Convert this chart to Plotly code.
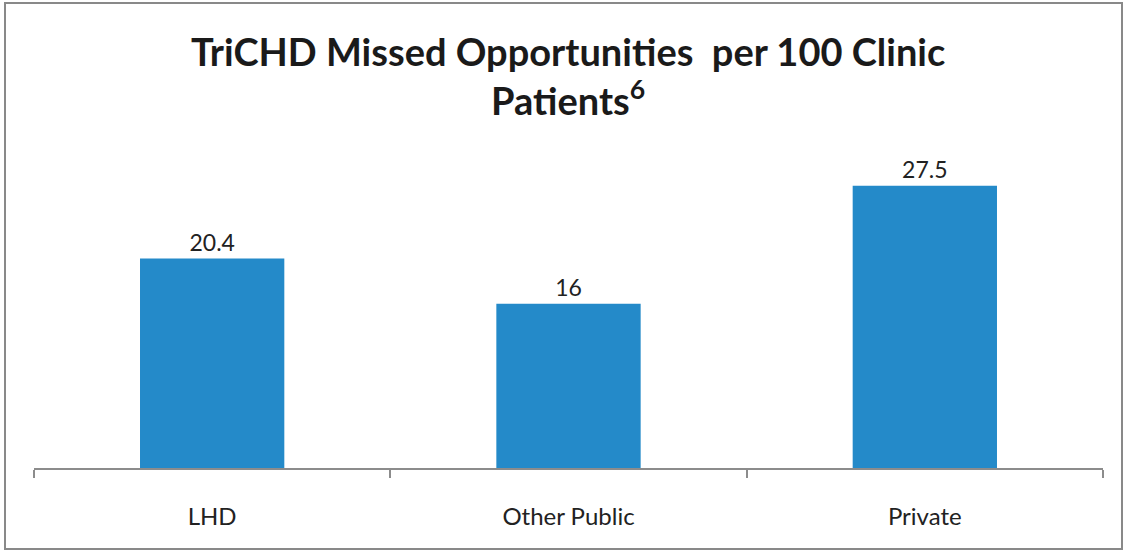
import plotly.graph_objects as go

categories = ["LHD", "Other Public", "Private"]
values = [20.4, 16, 27.5]
value_labels = ["20.4", "16", "27.5"]
title_text = "TriCHD Missed Opportunities  per 100 Clinic<br>Patients<sup>6</sup>"

W, H = 1125, 552
L, R, T, B = 34, 22, 160, 84
pw = W - L - R
ph = H - T - B

fig = go.Figure(go.Bar(
    x=categories, y=values, text=value_labels,
    textposition="outside", cliponaxis=False,
    textfont=dict(family="Lato", size=23, color="#222222"),
    marker=dict(color="#248AC9", line=dict(width=0)),
    width=0.405,
))

fig.update_layout(
    width=W, height=H,
    margin=dict(l=L, r=R, t=T, b=B),
    paper_bgcolor="white", plot_bgcolor="white",
    showlegend=False,
    title=dict(text=title_text, x=0.505, xanchor="center",
               y=1 - 66 / H, yref="container", yanchor="top",
               font=dict(family="Lato", size=38, color="#1a1a1a", weight="bold")),
    xaxis=dict(showline=True, linecolor="#8c8c8c", linewidth=1.5,
               ticks="outside", tickson="boundaries", ticklen=8,
               tickcolor="#8c8c8c", tickwidth=1.5,
               ticklabelstandoff=26,
               tickfont=dict(family="Lato", size=24, color="#222222"),
               showgrid=False),
    yaxis=dict(range=[0, 30], visible=False, showgrid=False, zeroline=False),
    bargap=0.595,
)

# outer border of the chart area
fig.add_shape(type="rect", xref="paper", yref="paper",
              x0=(5 - L) / pw, x1=(1122 - L) / pw,
              y0=(H - B - 549) / ph, y1=(H - B - 3) / ph,
              line=dict(color="#898989", width=2), fillcolor="rgba(0,0,0,0)",
              layer="below")

fig.write_html(
    "out.html",
    config={"displayModeBar": False},
    post_script="document.body.style.margin='0';document.body.style.overflow='hidden';",
)
